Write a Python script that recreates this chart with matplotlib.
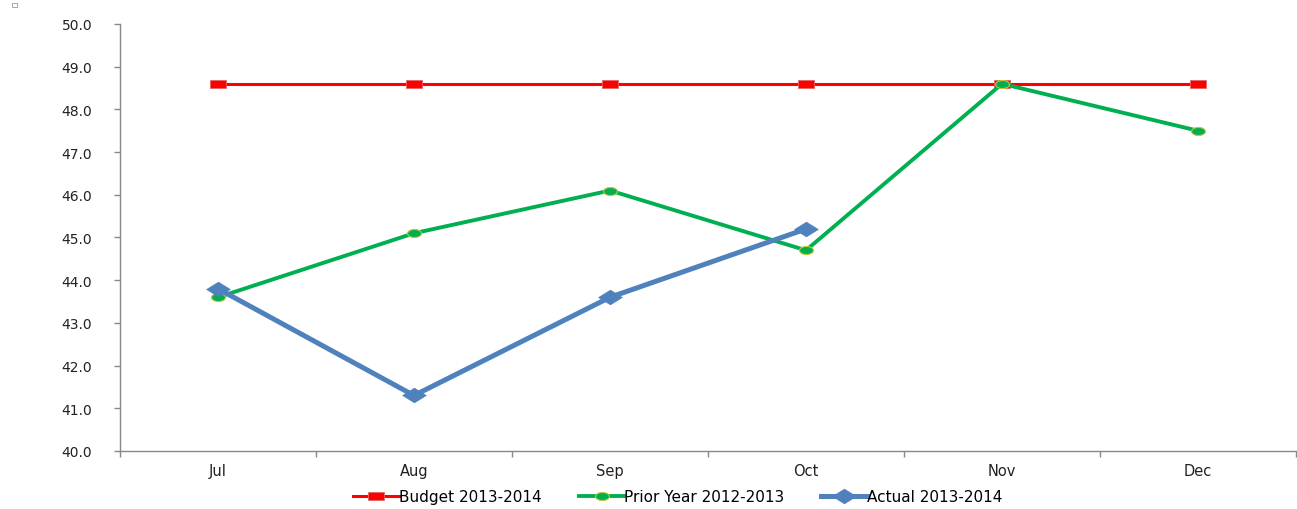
import numpy as np
import matplotlib
matplotlib.use('Agg')
import matplotlib.pyplot as plt
from matplotlib.patches import Rectangle

# data
months = ['Jul', 'Aug', 'Sep', 'Oct', 'Nov', 'Dec']
budget = [48.6, 48.6, 48.6, 48.6, 48.6, 48.6]
prior = [43.6, 45.1, 46.1, 44.7, 48.6, 47.5]
actual = [43.8, 41.3, 43.6, 45.2]
yticks = np.arange(40.0, 50.01, 1.0)

title_txt = 'Average Daily Census Compared to Budget by Month'

# flattened marker shapes (excel stretches them with the chart)
rect_m = [(-1, -0.55), (1, -0.55), (1, 0.55), (-1, 0.55), (-1, -0.55)]
t = np.linspace(0, 2*np.pi, 40)
ell_m = list(zip(np.cos(t), 0.58*np.sin(t)))
dia_m = [(-1, 0), (0, 0.62), (1, 0), (0, -0.62), (-1, 0)]

fig = plt.figure(figsize=(12.97, 5.10), dpi=100)
ax = fig.add_axes([120/1297, 1-452/510, 1176/1297, 427/510])

x = np.arange(len(months))
ax.plot(x, budget, color='#FF0000', lw=2.2, marker=rect_m, ms=11,
        mfc='#FF0000', mec='#E06666', mew=0.6, label='Budget 2013-2014', zorder=3)
ax.plot(x, prior, color='#00B050', lw=2.8, marker=ell_m, ms=10,
        mfc='#00B050', mec='#C4C43A', mew=0.8, label='Prior Year 2012-2013', zorder=4)
ax.plot(x[:len(actual)], actual, color='#4F81BD', lw=3.6, marker=dia_m, ms=17,
        mfc='#4F81BD', mec='#4F81BD', mew=0.5, label='Actual 2013-2014', zorder=5)

ax.set_xlim(-0.5, len(months)-0.5)
ax.set_ylim(40, 50)
ax.set_yticks(yticks)
ax.set_yticklabels(['%.1f' % v for v in yticks], fontsize=10, family='DejaVu Sans', color='#222222')
ax.set_xticks(np.arange(-0.5, len(months)), labels=[])
ax.set_xticks(x, minor=True)
ax.set_xticklabels(months, minor=True, fontsize=10.5,
                   family=['Liberation Sans Narrow', 'DejaVu Sans'], color='#222222')
ax.tick_params(axis='y', length=4, width=1, color='#888888', pad=16)
ax.tick_params(axis='x', which='major', length=4, width=1, color='#888888')
ax.tick_params(axis='x', which='minor', length=0, pad=9)

for s in ['top', 'right']:
    ax.spines[s].set_visible(False)
for s in ['left', 'bottom']:
    ax.spines[s].set_color('#888888')
    ax.spines[s].set_linewidth(1)

# title mostly clipped above the picture, as in the reference
fig.text(660/1297, 1.018, title_txt, ha='center', va='baseline', fontsize=16,
         fontweight='bold', family='Liberation Serif')
fig.add_artist(Rectangle((12/1297, 1-8/510), 5/1297, 4/510, transform=fig.transFigure,
                         fill=False, edgecolor='#999999', lw=0.6))

fig.legend(loc='center', bbox_to_anchor=(678/1297, 1-498/510), ncol=3, frameon=False,
           handlelength=3.0, handletextpad=0.0, columnspacing=2.4,
           prop={'family': 'DejaVu Sans', 'size': 11})

plt.savefig('out.png', dpi=100)
